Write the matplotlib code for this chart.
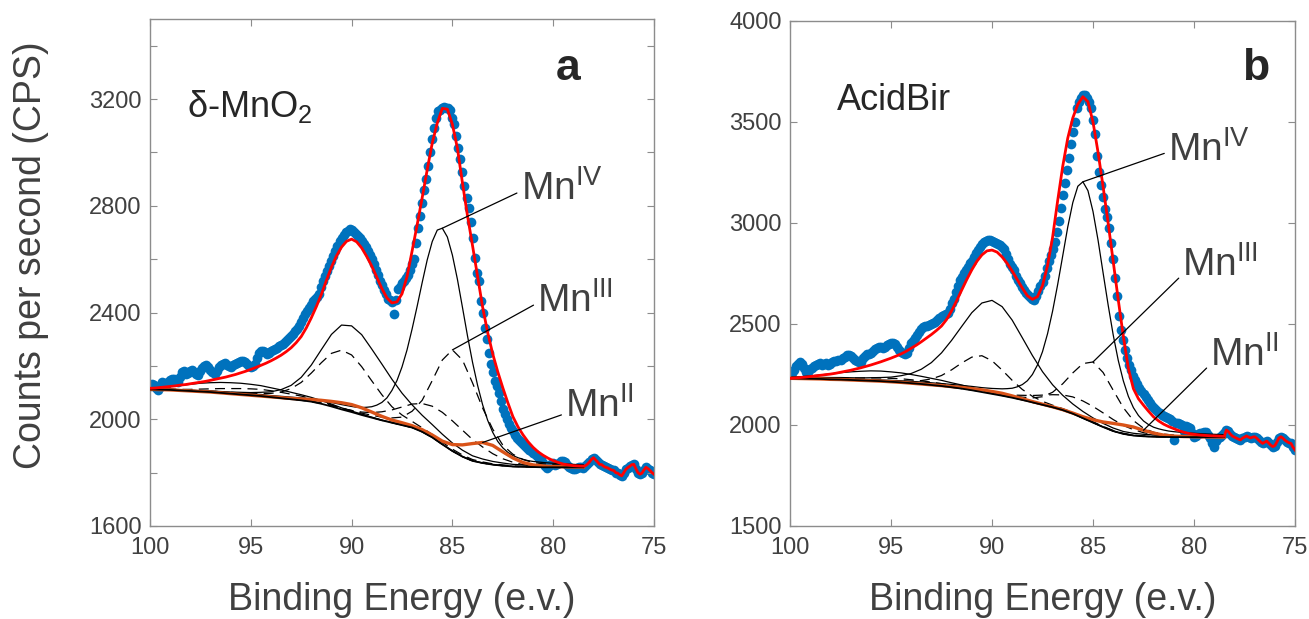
import numpy as np
import matplotlib
matplotlib.use('Agg')
import matplotlib.pyplot as plt

plt.rcParams['font.family'] = ['Liberation Sans', 'DejaVu Sans']
plt.rcParams['mathtext.default'] = 'regular'

# ---------------- panel a : d-MnO2 ----------------
# measured counts, 100 -> 75 eV in 0.1 eV steps
counts_a = np.array([
    2124, 2132, 2128, 2118, 2108, 2122, 2140, 2136, 2128, 2138,
    2146, 2152, 2150, 2142, 2138, 2160, 2176, 2180, 2168, 2172,
    2182, 2186, 2178, 2170, 2166, 2180, 2192, 2198, 2202, 2194,
    2184, 2176, 2170, 2182, 2196, 2204, 2206, 2210, 2204, 2198,
    2194, 2202, 2208, 2212, 2214, 2218, 2220, 2216, 2206, 2200,
    2196, 2198, 2206, 2230, 2250, 2256, 2256, 2252, 2246, 2250,
    2256, 2258, 2262, 2268, 2274, 2280, 2282, 2288, 2296, 2304,
    2312, 2320, 2330, 2340, 2350, 2364, 2380, 2394, 2406, 2418,
    2430, 2442, 2450, 2458, 2470, 2494, 2518, 2538, 2556, 2574,
    2592, 2612, 2630, 2650, 2668, 2680, 2690, 2700, 2706, 2712,
    2708, 2700, 2694, 2688, 2680, 2668, 2656, 2644, 2630, 2616,
    2600, 2580, 2560, 2540, 2520, 2502, 2486, 2468, 2452, 2446,
    2440, 2396, 2448, 2490, 2496, 2510, 2520, 2530, 2540, 2560,
    2580, 2600, 2660, 2718, 2760, 2810, 2860, 2900, 2950, 3000,
    3050, 3092, 3128, 3155, 3160, 3168, 3170, 3166, 3168, 3160,
    3130, 3105, 3060, 3017, 2975, 2925, 2875, 2830, 2790, 2740,
    2680, 2605, 2550, 2518, 2443, 2400, 2343, 2300, 2250, 2206,
    2176, 2143, 2125, 2100, 2069, 2040, 2019, 2000, 1984, 1969,
    1956, 1942, 1931, 1922, 1915, 1906, 1900, 1892, 1886, 1881,
    1874, 1868, 1863, 1856, 1850, 1836, 1824, 1819, 1826, 1832,
    1836, 1830, 1831, 1836, 1842, 1844, 1840, 1830, 1822, 1816,
    1813, 1815, 1818, 1822, 1820, 1819, 1826, 1832, 1840, 1850,
    1856, 1848, 1840, 1831, 1830, 1824, 1820, 1818, 1813, 1810,
    1808, 1800, 1798, 1792, 1788, 1800, 1812, 1819, 1824, 1830,
    1831, 1815, 1800, 1794, 1798, 1810, 1820, 1815, 1808, 1800,
    1794])

# total fit envelope, 100 -> 78.5 eV in 0.25 eV steps
fit_a = np.array([
    2116, 2117, 2119, 2121, 2123, 2125, 2128, 2130, 2133, 2136,
    2139, 2142, 2146, 2150, 2154, 2158, 2163, 2168, 2174, 2180,
    2187, 2194, 2202, 2210, 2219, 2229, 2240, 2253, 2268, 2287,
    2310, 2342, 2380, 2422, 2468, 2520, 2570, 2612, 2645, 2667,
    2675, 2665, 2642, 2610, 2574, 2532, 2490, 2455, 2436, 2440,
    2470, 2535, 2630, 2728, 2830, 2935, 3035, 3110, 3165, 3162,
    3105, 3015, 2885, 2762, 2650, 2535, 2420, 2325, 2245, 2178,
    2118, 2062, 2010, 1972, 1942, 1916, 1895, 1878, 1865, 1854,
    1845, 1838, 1832, 1829, 1826, 1825, 1824])

# background and components above it, 100 -> 78.5 eV in 0.5 eV steps
bg_a = np.array([
    2112, 2111, 2110, 2108, 2106, 2104, 2102, 2099, 2096, 2093,
    2090, 2087, 2083, 2079, 2075, 2071, 2066, 2058, 2048, 2037,
    2027, 2016, 2006, 1996, 1987, 1978, 1969, 1953, 1932, 1906,
    1881, 1860, 1844, 1836, 1830, 1826, 1823, 1822, 1821, 1820,
    1820, 1820, 1820, 1820])
mn4_main_a = np.array([
    2, 2, 3, 3, 3, 3, 4, 4, 4, 5,
    5, 6, 6, 7, 8, 9, 11, 13, 15, 18,
    21, 28, 41, 67, 121, 218, 369, 559, 734, 810,
    734, 559, 369, 218, 121, 67, 41, 28, 21, 18,
    15, 13, 11, 9])
# Mn(IV) main line around its maximum, 90 -> 81 eV in 0.25 eV steps
mn4_peak_a = np.array([
    2048, 2045, 2044, 2045, 2047, 2053, 2063, 2080, 2108, 2145,
    2196, 2260, 2338, 2423, 2512, 2597, 2666, 2709, 2716, 2683,
    2615, 2524, 2419, 2312, 2213, 2127, 2054, 1996, 1951, 1917,
    1893, 1876, 1864, 1856, 1850, 1845, 1842])
mn4_split_a = np.array([
    2, 2, 2, 2, 3, 3, 4, 5, 6, 8,
    10, 14, 20, 32, 52, 86, 137, 203, 270, 316,
    323, 301, 257, 211, 163, 120, 85, 62, 48, 38,
    30, 24, 19, 15, 12, 10, 8, 7, 6, 5,
    4, 4, 3, 3])
mn4_sat_a = np.array([
    4, 8, 13, 19, 25, 31, 35, 39, 41, 42,
    41, 39, 35, 31, 26, 21, 16, 12, 9, 6,
    4, 3, 2, 1, 1, 0, 0, 0, 0, 0,
    0, 0, 0, 0, 0, 0, 0, 0, 0, 0,
    0, 0, 0, 0])
mn3_main_a = np.array([
    1, 1, 1, 1, 1, 1, 1, 1, 1, 1,
    1, 1, 2, 2, 2, 2, 3, 3, 4, 5,
    6, 7, 9, 12, 18, 30, 61, 118, 213, 316,
    379, 362, 292, 206, 133, 77, 46, 27, 17, 13,
    10, 8, 7, 6])
mn3_split_a = np.array([
    1, 1, 2, 2, 2, 3, 3, 4, 5, 6,
    8, 10, 14, 23, 40, 67, 107, 154, 199, 222,
    214, 181, 138, 96, 60, 38, 23, 15, 11, 8,
    7, 6, 5, 4, 3, 3, 2, 2, 2, 1,
    1, 1, 1, 1])
mn3_mid_a = np.array([
    0, 0, 0, 0, 0, 0, 0, 0, 0, 0,
    0, 0, 0, 0, 0, 0, 0, 1, 2, 3,
    6, 11, 19, 32, 48, 68, 88, 106, 117, 120,
    113, 99, 80, 60, 41, 26, 16, 8, 4, 2,
    1, 0, 0, 0])
mn3_sat_a = np.array([
    1, 2, 3, 4, 6, 9, 12, 16, 19, 22,
    24, 25, 24, 22, 19, 16, 12, 9, 6, 4,
    3, 2, 1, 0, 0, 0, 0, 0, 0, 0,
    0, 0, 0, 0, 0, 0, 0, 0, 0, 0,
    0, 0, 0, 0])
mn2_a = np.array([
    0, 0, 0, 0, 0, 0, 0, 0, 0, 0,
    0, 0, 1, 2, 3, 5, 8, 13, 19, 25,
    28, 27, 21, 15, 10, 9, 7, 8, 9, 12,
    24, 44, 65, 77, 72, 52, 32, 16, 8, 5,
    3, 2, 1, 1])

# ---------------- panel b : AcidBir ----------------
counts_b = np.array([
    2264, 2256, 2270, 2290, 2300, 2313, 2300, 2280, 2264, 2262,
    2275, 2282, 2290, 2298, 2302, 2305, 2296, 2300, 2305, 2298,
    2300, 2310, 2318, 2315, 2322, 2322, 2330, 2338, 2345, 2347,
    2340, 2330, 2322, 2316, 2312, 2313, 2330, 2340, 2350, 2352,
    2355, 2366, 2375, 2382, 2388, 2388, 2380, 2386, 2395, 2400,
    2404, 2404, 2400, 2386, 2370, 2362, 2356, 2352, 2355, 2380,
    2404, 2418, 2430, 2445, 2460, 2474, 2487, 2490, 2490, 2495,
    2500, 2503, 2512, 2520, 2530, 2538, 2545, 2550, 2556, 2575,
    2602, 2625, 2660, 2690, 2716, 2735, 2750, 2765, 2780, 2800,
    2812, 2830, 2850, 2868, 2883, 2895, 2905, 2912, 2916, 2916,
    2912, 2906, 2900, 2896, 2891, 2882, 2870, 2845, 2820, 2795,
    2780, 2765, 2740, 2720, 2701, 2685, 2670, 2655, 2645, 2632,
    2625, 2620, 2640, 2665, 2690, 2710, 2740, 2775, 2810, 2840,
    2870, 2905, 2955, 3010, 3075, 3140, 3200, 3260, 3320, 3390,
    3450, 3500, 3570, 3600, 3620, 3632, 3634, 3620, 3600, 3570,
    3510, 3440, 3330, 3250, 3190, 3130, 3070, 3030, 2975, 2900,
    2820, 2730, 2640, 2540, 2470, 2420, 2370, 2330, 2295, 2270,
    2245, 2222, 2205, 2185, 2170, 2155, 2140, 2124, 2110, 2095,
    2085, 2075, 2066, 2058, 2050, 2045, 2040, 2033, 2028, 2020,
    1926, 2012, 2008, 2003, 1998, 1970, 1994, 1992, 1985, 1960,
    1942, 1948, 1955, 1962, 1960, 1966, 1967, 1952, 1935, 1910,
    1893, 1920, 1935, 1942, 1950, 1960, 1975, 1968, 1955, 1945,
    1940, 1935, 1930, 1926, 1935, 1940, 1946, 1940, 1936, 1940,
    1942, 1935, 1925, 1916, 1909, 1915, 1920, 1910, 1900, 1893,
    1898, 1915, 1935, 1942, 1935, 1925, 1918, 1912, 1909, 1890,
    1876])

fit_b = np.array([
    2231, 2233, 2235, 2237, 2240, 2243, 2246, 2249, 2252, 2256,
    2261, 2266, 2271, 2277, 2283, 2290, 2297, 2305, 2313, 2322,
    2331, 2341, 2352, 2365, 2380, 2395, 2412, 2430, 2448, 2468,
    2490, 2522, 2565, 2615, 2668, 2720, 2768, 2810, 2842, 2862,
    2866, 2856, 2832, 2800, 2762, 2720, 2678, 2640, 2622, 2635,
    2690, 2790, 2930, 3110, 3280, 3420, 3520, 3588, 3625, 3600,
    3500, 3350, 3180, 3000, 2810, 2620, 2440, 2280, 2180, 2130,
    2098, 2068, 2040, 2020, 2004, 1992, 1982, 1972, 1964, 1958,
    1954, 1951, 1949, 1947, 1946, 1945, 1944])

bg_b = np.array([
    2231, 2230, 2229, 2228, 2226, 2225, 2223, 2221, 2219, 2217,
    2214, 2211, 2207, 2203, 2198, 2193, 2187, 2180, 2172, 2163,
    2154, 2145, 2135, 2124, 2112, 2100, 2088, 2074, 2056, 2034,
    2012, 1990, 1970, 1956, 1948, 1944, 1942, 1941, 1940, 1940,
    1940, 1940, 1940, 1940])
mn4_main_b = np.array([
    3, 3, 3, 4, 4, 4, 5, 5, 6, 6,
    7, 8, 9, 10, 11, 12, 14, 16, 19, 22,
    27, 34, 47, 76, 138, 263, 476, 763, 1045, 1170,
    1045, 763, 476, 263, 138, 76, 47, 34, 27, 22,
    19, 16, 14, 12])
mn4_peak_b = np.array([
    2181, 2180, 2179, 2180, 2182, 2189, 2200, 2219, 2250, 2297,
    2363, 2452, 2564, 2695, 2837, 2980, 3101, 3182, 3204, 3160,
    3057, 2915, 2753, 2594, 2446, 2320, 2219, 2142, 2086, 2047,
    2020, 2002, 1989, 1981, 1975, 1970, 1967])
mn4_split_b = np.array([
    6, 6, 7, 8, 9, 10, 11, 12, 15, 18,
    23, 33, 48, 73, 111, 164, 232, 308, 384, 441,
    463, 441, 384, 308, 232, 164, 111, 73, 48, 33,
    23, 18, 15, 12, 11, 10, 9, 8, 7, 6,
    6, 5, 5, 5])
mn4_sat_b = np.array([
    5, 9, 14, 20, 27, 34, 40, 45, 49, 50,
    49, 47, 43, 38, 33, 28, 22, 18, 13, 10,
    7, 5, 3, 2, 1, 0, 0, 0, 0, 0,
    0, 0, 0, 0, 0, 0, 0, 0, 0, 0,
    0, 0, 0, 0])
mn3_main_b = np.array([
    1, 1, 1, 1, 1, 1, 1, 1, 1, 1,
    2, 2, 2, 2, 2, 3, 3, 3, 4, 5,
    6, 8, 10, 14, 22, 40, 74, 130, 202, 270,
    300, 270, 202, 130, 74, 40, 22, 14, 10, 8,
    6, 5, 4, 3])
mn3_split_b = np.array([
    2, 2, 2, 2, 2, 3, 3, 3, 4, 5,
    6, 7, 10, 17, 30, 52, 86, 127, 164, 180,
    164, 127, 86, 52, 30, 17, 10, 7, 6, 5,
    4, 3, 3, 3, 2, 2, 2, 2, 2, 1,
    1, 1, 1, 1])
mn3_mid_b = np.array([
    0, 0, 0, 0, 0, 0, 0, 0, 0, 0,
    0, 0, 0, 0, 0, 0, 0, 0, 1, 2,
    4, 8, 13, 23, 34, 48, 62, 75, 83, 85,
    80, 70, 57, 42, 29, 18, 11, 6, 3, 1,
    0, 0, 0, 0])
mn3_sat_b = np.array([
    1, 1, 2, 3, 4, 6, 9, 12, 14, 16,
    17, 18, 17, 16, 14, 12, 9, 6, 4, 3,
    2, 1, 1, 0, 0, 0, 0, 0, 0, 0,
    0, 0, 0, 0, 0, 0, 0, 0, 0, 0,
    0, 0, 0, 0])
mn2_b = np.array([
    0, 0, 0, 0, 0, 0, 0, 0, 0, 0,
    0, 0, 0, 0, 1, 2, 3, 6, 8, 11,
    12, 12, 9, 6, 4, 3, 2, 2, 3, 7,
    14, 25, 38, 44, 42, 30, 18, 9, 5, 3,
    2, 1, 1, 0])

E_data = 100 - 0.1 * np.arange(len(counts_a))
E_fit = 100 - 0.25 * np.arange(len(fit_a))
E_grid = 100 - 0.5 * np.arange(len(bg_a))
E_peak = 90 - 0.25 * np.arange(len(mn4_peak_a))

GRAY = '#8c8c8c'
TXT = '#404040'


def main_line(bg, comp, peak):
    # coarse wings joined to the finely sampled top
    left = E_grid > E_peak[0] + 0.05
    right = E_grid < E_peak[-1] - 0.05
    x = np.r_[E_grid[left], E_peak, E_grid[right]]
    y = np.r_[(bg + comp)[left], peak, (bg + comp)[right]]
    return x, y


def draw_panel(ax, counts, fit, bg, mn4_main, mn4_peak, mn4, mn3, mn2):
    ax.plot(E_data, counts, 'o', color='#0072BD', ms=7, mec='none', zorder=1)
    x, y = main_line(bg, mn4_main, mn4_peak)
    ax.plot(x, y, '-', color='k', lw=0.9, zorder=2)
    for c in mn4:
        ax.plot(E_grid, bg + c, '-', color='k', lw=0.9, zorder=2)
    for c in mn3:
        ax.plot(E_grid, bg + c, '--', color='k', lw=0.9, dashes=(8, 5), zorder=2)
    ax.plot(E_grid, bg + mn2, '-', color='#D95319', lw=2.4, zorder=3)
    ax.plot(E_grid, bg, '-', color='k', lw=1.3, zorder=3)
    # the envelope follows the raw counts beyond the fitting window
    tail = E_data < E_fit[-1] - 0.05
    ax.plot(np.r_[E_fit, E_data[tail]], np.r_[fit, counts[tail]],
            '-', color='#ff0000', lw=2.0, zorder=4)

    ax.set_xlim(100, 75)
    ax.set_xticks([100, 95, 90, 85, 80, 75])
    ax.tick_params(direction='in', length=5, width=0.8, color=GRAY,
                   labelcolor=TXT, labelsize=17, top=True, right=True)
    ax.tick_params(axis='x', pad=8)
    ax.tick_params(axis='y', pad=6)
    for s in ax.spines.values():
        s.set_color(GRAY)
        s.set_linewidth(1.0)
    ax.set_xlabel('Binding Energy (e.v.)', fontsize=27, color=TXT)
    ax.xaxis.set_label_coords(0.5, -0.11)


def label_peak(ax, text, xy, xytext, rel=0.45):
    ax.annotate(text, xy=xy, xytext=xytext, fontsize=28, color=TXT,
                ha='left', va='center', zorder=5,
                arrowprops=dict(arrowstyle='-', color='k', lw=0.9,
                                shrinkA=1, shrinkB=0, relpos=(0, rel)))


fig = plt.figure(figsize=(13.09, 6.19), dpi=100)
ax1 = fig.add_axes([150 / 1309, 1 - 526 / 619, 504 / 1309, 507 / 619])
ax2 = fig.add_axes([790 / 1309, 1 - 526 / 619, 505 / 1309, 505 / 619])

# panel a
draw_panel(ax1, counts_a, fit_a, bg_a, mn4_main_a, mn4_peak_a,
           [mn4_split_a, mn4_sat_a],
           [mn3_main_a, mn3_split_a, mn3_mid_a, mn3_sat_a], mn2_a)
ax1.set_ylim(1600, 3500)
yt = np.arange(1600, 3401, 200)
ax1.set_yticks(yt)
ax1.set_yticklabels([str(v) if v % 400 == 0 else '' for v in yt])
ax1.set_ylabel('Counts per second (CPS)', fontsize=27, color=TXT)
ax1.yaxis.set_label_coords(-0.2, 0.535)
ax1.text(0.073, 0.807, 'δ-MnO$_2$', transform=ax1.transAxes, fontsize=26,
         color='#262626', ha='left', va='baseline')
ax1.text(0.83, 0.88, 'a', transform=ax1.transAxes, fontsize=32,
         fontweight='bold', color='#262626', ha='center', va='baseline')
k = np.argmax(mn4_peak_a)
label_peak(ax1, 'Mn$^{IV}$', (E_peak[k], mn4_peak_a[k]), (81.6, 2862))
label_peak(ax1, 'Mn$^{III}$', (E_grid[30], bg_a[30] + mn3_main_a[30]), (80.78, 2443))
label_peak(ax1, 'Mn$^{II}$', (E_grid[33], bg_a[33] + mn2_a[33]), (79.39, 2050), rel=0.3)

# panel b
draw_panel(ax2, counts_b, fit_b, bg_b, mn4_main_b, mn4_peak_b,
           [mn4_split_b, mn4_sat_b],
           [mn3_main_b, mn3_split_b, mn3_mid_b, mn3_sat_b], mn2_b)
ax2.set_ylim(1500, 4000)
ax2.set_yticks(np.arange(1500, 4001, 500))
ax2.text(0.093, 0.824, 'AcidBir', transform=ax2.transAxes, fontsize=26,
         color='#262626', ha='left', va='baseline')
ax2.text(0.923, 0.883, 'b', transform=ax2.transAxes, fontsize=32,
         fontweight='bold', color='#262626', ha='center', va='baseline')
k = np.argmax(mn4_peak_b)
label_peak(ax2, 'Mn$^{IV}$', (E_peak[k], mn4_peak_b[k]), (81.27, 3361))
label_peak(ax2, 'Mn$^{III}$', (E_grid[30], bg_b[30] + mn3_main_b[30]), (80.57, 2792), rel=0.25)
label_peak(ax2, 'Mn$^{II}$', (E_grid[35], bg_b[35] + mn2_b[35]), (79.19, 2347), rel=0.25)

fig.savefig('out.png', dpi=100)
